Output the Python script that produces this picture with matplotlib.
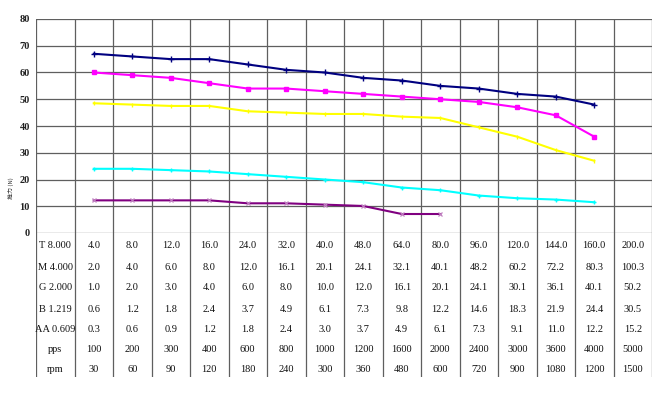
import matplotlib
matplotlib.use("Agg")
import matplotlib.pyplot as plt

# ---- data ----
row_labels = ["T 8.000", "M 4.000", "G 2.000", "B 1.219", "AA 0.609", "pps", "rpm"]
t_vals = ["4.0", "8.0", "12.0", "16.0", "24.0", "32.0", "40.0", "48.0", "64.0", "80.0", "96.0", "120.0", "144.0", "160.0", "200.0"]
m_vals = ["2.0", "4.0", "6.0", "8.0", "12.0", "16.1", "20.1", "24.1", "32.1", "40.1", "48.2", "60.2", "72.2", "80.3", "100.3"]
g_vals = ["1.0", "2.0", "3.0", "4.0", "6.0", "8.0", "10.0", "12.0", "16.1", "20.1", "24.1", "30.1", "36.1", "40.1", "50.2"]
b_vals = ["0.6", "1.2", "1.8", "2.4", "3.7", "4.9", "6.1", "7.3", "9.8", "12.2", "14.6", "18.3", "21.9", "24.4", "30.5"]
aa_vals = ["0.3", "0.6", "0.9", "1.2", "1.8", "2.4", "3.0", "3.7", "4.9", "6.1", "7.3", "9.1", "11.0", "12.2", "15.2"]
pps = ["100", "200", "300", "400", "600", "800", "1000", "1200", "1600", "2000", "2400", "3000", "3600", "4000", "5000"]
rpm = ["30", "60", "90", "120", "180", "240", "300", "360", "480", "600", "720", "900", "1080", "1200", "1500"]

navy_series = [67, 66, 65, 65, 63, 61, 60, 58, 57, 55, 54, 52, 51, 48]
magenta_series = [60, 59, 58, 56, 54, 54, 53, 52, 51, 50, 49, 47, 44, 36]
yellow_series = [48.5, 48, 47.5, 47.5, 45.5, 45, 44.5, 44.5, 43.5, 43, 39.5, 36, 31, 27]
cyan_series = [24, 24, 23.5, 23, 22, 21, 20, 19, 17, 16, 14, 13, 12.5, 11.5]
purple_series = [12.2, 12.2, 12.2, 12.2, 11.1, 11.1, 10.6, 10.1, 7.1, 7.1]

W, H = 671, 393
fig = plt.figure(figsize=(W / 100, H / 100), dpi=100)

left, right = 36 / W, 652 / W
top_px, axis_px, bottom_px = 19, 233, 377
ax = fig.add_axes([left, 1 - axis_px / H, right - left, (axis_px - top_px) / H])
tax = fig.add_axes([left, 1 - bottom_px / H, right - left, (bottom_px - axis_px) / H])

ncols = len(t_vals) + 1
grid_c = "#5f5f5f"
serif = ["Liberation Serif", "DejaVu Serif"]

ax.set_xlim(0, ncols)
ax.set_ylim(0, 80)
for xv in range(ncols + 1):
    ax.axvline(xv, color=grid_c, lw=0.9, zorder=1)
for yv in range(0, 81, 10):
    ax.axhline(yv, color=grid_c, lw=0.9, zorder=1)
for s in ax.spines.values():
    s.set_visible(False)
ax.set_xticks([])
ax.set_yticks(range(0, 81, 10))
ax.tick_params(axis="y", length=0, pad=4.5, labelsize=7.5)
for lbl in ax.get_yticklabels():
    lbl.set_fontfamily(serif)
    lbl.set_fontweight("bold")
    lbl.set_color("#222222")

def xs(n):
    return [i + 1.5 for i in range(n)]

ax.plot(xs(len(navy_series)), navy_series, color="#000080", lw=1.5, marker="+", ms=4, mew=1, zorder=3)
ax.plot(xs(len(magenta_series)), magenta_series, color="#FF00FF", lw=1.5, marker="s", ms=2.5, zorder=3)
ax.plot(xs(len(yellow_series)), yellow_series, color="#FFFF00", lw=1.5, marker="|", ms=3, zorder=3)
ax.plot(xs(len(cyan_series)), cyan_series, color="#00FFFF", lw=1.5, marker="+", ms=3, zorder=3)
ax.plot(xs(len(purple_series)), purple_series, color="#800080", lw=1.5, marker="x", ms=3.5,
        mec="#c080c0", mew=0.9, zorder=3)

fig.text(11 / W, 1 - 188 / H, "推力 (N)", rotation=90, ha="center", va="center",
         fontsize=4.3, family=["Noto Sans CJK SC", "DejaVu Sans"], color="#333333")

# ---- table ----
rows = [t_vals, m_vals, g_vals, b_vals, aa_vals, pps, rpm]
row_px = [246, 267, 288, 309, 330, 349.5, 369.5]
tax.set_xlim(0, ncols)
tax.set_ylim(bottom_px, axis_px)
tax.axis("off")
for xv in range(ncols + 1):
    tax.axvline(xv, color=grid_c, lw=0.9)
for r, (lab, vals) in enumerate(zip(row_labels, rows)):
    yc = row_px[r]
    tax.text(0.5, yc, lab, ha="center", va="center", fontsize=7.5, family=serif, color="#111111")
    for c, v in enumerate(vals):
        tax.text(c + 1.5, yc, v, ha="center", va="center", fontsize=7.5, family=serif, color="#111111")

fig.savefig("out.png", dpi=100)
